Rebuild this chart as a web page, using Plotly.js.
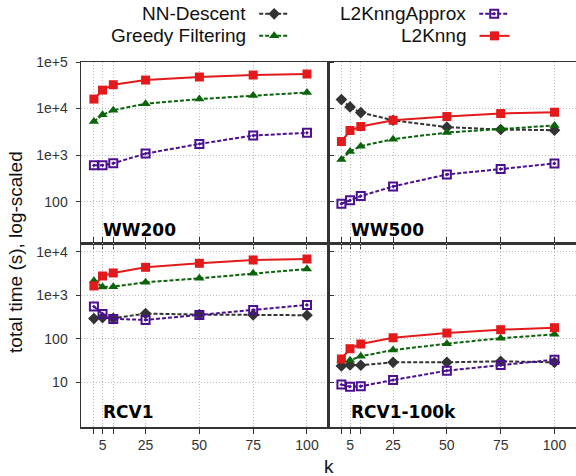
<!DOCTYPE html>
<html><head><meta charset="utf-8">
<script src="https://cdn.plot.ly/plotly-3.0.1.min.js"></script>
<style>html,body{margin:0;padding:0;background:#fff}#chart{width:576px;height:476px}</style>
</head><body><div id="chart"></div>
<script>
// x values (k)
const k = [1, 5, 10, 25, 50, 75, 100];
const xTickVals = [1, 5, 10, 25, 50, 75, 100];
const xTickText = ['', '5', '', '25', '50', '75', '100'];
const seriesNames = ['NN-Descent', 'Greedy Filtering', 'L2KnngApprox', 'L2Knng'];
const panelNames = ['WW200', 'WW500', 'RCV1', 'RCV1-100k'];

// WW200 (NN-Descent has no values)
const ww200_nn = [null, null, null, null, null, null, null];
const ww200_greedy = [5270, 7340, 9250, 12700, 16000, 19150, 22200];
const ww200_approx = [605, 605, 668, 1080, 1740, 2640, 3010];
const ww200_l2 = [16000, 24900, 32500, 40900, 47600, 52500, 55200];
// WW500
const ww500_nn = [15600, 10850, 8210, 5620, 3980, 3550, 3430];
const ww500_greedy = [807, 1200, 1560, 2200, 3060, 3660, 4330];
const ww500_approx = [90.6, 107, 132, 213, 385, 502, 663];
const ww500_l2 = [1960, 3380, 4110, 5620, 6740, 7820, 8340];
// RCV1
const rcv1_nn = [290, 305, 295, 378, 358, 352, 346];
const rcv1_greedy = [2160, 1545, 1570, 1980, 2440, 3180, 4000];
const rcv1_approx = [547, 371, 285, 270, 352, 458, 597];
const rcv1_l2 = [1630, 2760, 3240, 4370, 5400, 6440, 6790];
// RCV1-100k
const rcv100k_nn = [23.6, 24.9, 24.5, 28.6, 28.6, 30.2, 28.6];
const rcv100k_greedy = [31.8, 31.8, 39.3, 54.9, 76.8, 102, 126];
const rcv100k_approx = [8.8, 7.9, 8.05, 11.2, 18.4, 24.9, 33];
const rcv100k_l2 = [34.1, 58.9, 75.4, 105, 135, 161, 179];

const topYTickVals = [100, 1000, 10000, 100000];
const topYTickText = ['100', '1e+3', '1e+4', '1e+5'];
const botYTickVals = [10, 100, 1000, 10000];
const botYTickText = ['10', '100', '1e+3', '1e+4'];

const panels = [
  [ww200_nn, ww200_greedy, ww200_approx, ww200_l2],
  [ww500_nn, ww500_greedy, ww500_approx, ww500_l2],
  [rcv1_nn, rcv1_greedy, rcv1_approx, rcv1_l2],
  [rcv100k_nn, rcv100k_greedy, rcv100k_approx, rcv100k_l2]
];

const styles = [
  {line: {color: '#333333', width: 2, dash: '4px,2px'}, marker: {symbol: 'diamond', size: 9, color: '#333333'}},
  {line: {color: '#0a640a', width: 2, dash: '4px,2px'}, marker: {symbol: 'triangle-up', size: 9, color: '#0a640a'}},
  {line: {color: '#4b1090', width: 2, dash: '4px,2px'}, marker: {symbol: 'square-open-dot', size: 8, color: '#4b1090', line: {width: 2, color: '#4b1090'}}},
  {line: {color: '#e31a1c', width: 2}, marker: {symbol: 'square', size: 9, color: '#e31a1c'}}
];
const legendIds = ['legend', 'legend2', 'legend3', 'legend4'];

const traces = [];
panels.forEach((p, pi) => {
  p.forEach((ys, si) => {
    const ax = pi === 0 ? '' : String(pi + 1);
    traces.push({
      type: 'scatter', mode: 'lines+markers', x: k, y: ys,
      name: ' ', legend: legendIds[si],
      xaxis: 'x' + ax, yaxis: 'y' + ax,
      line: styles[si].line, marker: styles[si].marker,
      showlegend: pi === 1, cliponaxis: false
    });
  });
});

const FONT = 'Liberation Sans, Arial, sans-serif';
const GRID = {showgrid: true, gridcolor: '#bdbdbd', griddash: '1px,2px', gridwidth: 1};
const baseX = Object.assign({
  range: [-5, 110], tickvals: xTickVals, ticktext: xTickText,
  showline: true, linecolor: '#333', linewidth: 1.5,
  ticks: 'outside', ticklen: 5, tickcolor: '#333', tickwidth: 1,
  zeroline: false, tickfont: {family: FONT, size: 14, color: '#333'}
}, GRID);
function xa(dom, anchor, bottom) {
  return Object.assign({}, baseX, {domain: dom, anchor: anchor,
    showticklabels: bottom, mirror: bottom ? 'ticks' : true});
}
function ya(dom, anchor, top, left) {
  return Object.assign({
    type: 'log', domain: dom, anchor: anchor,
    range: top ? [1.105, 5] : [-0.03, 4.19],
    tickvals: top ? topYTickVals : botYTickVals,
    ticktext: top ? topYTickText : botYTickText,
    showline: true, linecolor: '#333', linewidth: 1.5,
    ticks: left ? 'outside' : 'inside', ticklen: 4, tickcolor: '#333',
    mirror: left ? 'ticks' : false, showticklabels: left,
    ticklabelstandoff: 5,
    zeroline: false, tickfont: {family: FONT, size: 14, color: '#333'}
  }, GRID);
}
const L = [0, 0.5], R = [0.5, 1], T = [0.503, 1], B = [0, 0.503];

function legendCfg(i, x, y) {
  return {
    title: {text: seriesNames[i], side: 'left', font: {family: FONT, size: 19, color: '#111'}},
    xref: 'container', yref: 'container', x: x, y: y,
    xanchor: 'right', yanchor: 'middle', bgcolor: 'rgba(0,0,0,0)', borderwidth: 0,
    font: {family: FONT, size: 19}
  };
}

const annotations = [];
const panelAxes = [['x', 'y'], ['x2', 'y2'], ['x3', 'y3'], ['x4', 'y4']];
panelNames.forEach((n, i) => {
  annotations.push({
    text: '<b>' + n + '</b>', xref: panelAxes[i][0] + ' domain', yref: panelAxes[i][1] + ' domain',
    x: i % 2 === 0 ? 0.08 : 0.084, y: i < 2 ? 0.073 : 0.082,
    xanchor: 'left', yanchor: 'middle', showarrow: false,
    font: {family: 'DejaVu Sans', size: 17, color: '#000'}
  });
});
annotations.push({text: 'total time (s), log-scaled', textangle: -90, xref: 'paper', yref: 'paper',
  x: -0.131, y: 0.48, xanchor: 'center', yanchor: 'middle', showarrow: false,
  font: {family: FONT, size: 19, color: '#111'}});
annotations.push({text: 'k', xref: 'paper', yref: 'paper', x: 0.5, y: -0.107,
  xanchor: 'center', yanchor: 'middle', showarrow: false,
  font: {family: FONT, size: 19, color: '#111'}});

const layout = {
  width: 576, height: 476,
  margin: {l: 81, r: 0, t: 62, b: 49, autoexpand: false},
  paper_bgcolor: '#fff', plot_bgcolor: '#fff',
  showlegend: true,
  xaxis: xa(L, 'y', false), yaxis: ya(T, 'x', true, true),
  xaxis2: xa(R, 'y2', false), yaxis2: ya(T, 'x2', true, false),
  xaxis3: xa(L, 'y3', true), yaxis3: ya(B, 'x3', false, true),
  xaxis4: xa(R, 'y4', true), yaxis4: ya(B, 'x4', false, false),
  legend: legendCfg(0, 305 / 576, 1 - 14 / 476),
  legend2: legendCfg(1, 305 / 576, 1 - 36 / 476),
  legend3: legendCfg(2, 525 / 576, 1 - 14 / 476),
  legend4: legendCfg(3, 525 / 576, 1 - 36 / 476),
  annotations: annotations
};

Plotly.newPlot('chart', traces, layout, {displayModeBar: false, staticPlot: true});
</script></body></html>
